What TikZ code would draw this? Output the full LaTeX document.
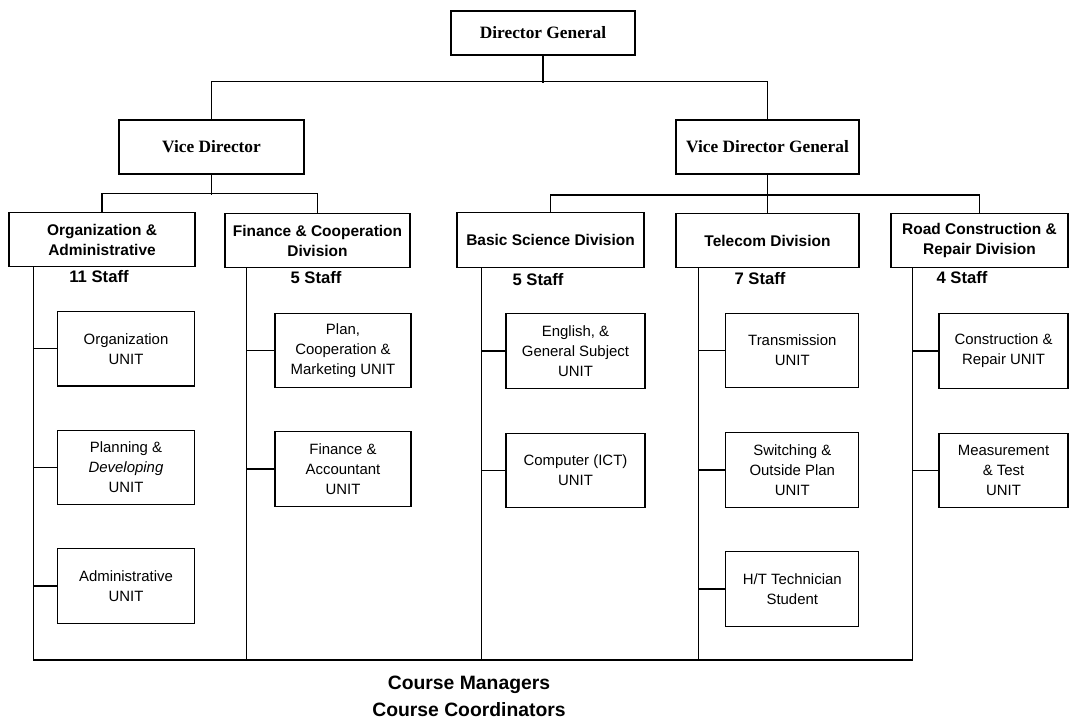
\documentclass[tikz,border=0pt]{standalone}
\usepackage{fontspec}
\setmainfont{Liberation Serif}
\setsansfont{Liberation Sans}
\begin{document}
\begin{tikzpicture}[x=.75pt, y=-.75pt, line width=.9pt,
  head/.style={draw, inner sep=0pt, minimum height=40.5pt, font=\bfseries\fontsize{13}{15}\selectfont},
  div/.style={draw, inner sep=0pt, minimum height=41pt, align=center, font=\sffamily\bfseries\fontsize{11.6}{15}\selectfont},
  unit/.style={draw, inner sep=0pt, minimum height=56pt, align=center, font=\sffamily\fontsize{11.2}{15}\selectfont},
  staff/.style={font=\sffamily\bfseries\fontsize{12.5}{15}\selectfont},
  foot/.style={align=center, font=\sffamily\bfseries\fontsize{14.5}{20}\selectfont}]
\useasboundingbox (0,0) rectangle (1070,723);
\node[head, minimum width=138pt, minimum height=33pt] (dg) at (543,33) {Director General};
\node[head, minimum width=138.75pt] (vd) at (211.5,147) {Vice Director};
\node[head, minimum width=137.25pt] (vdg) at (767.5,147) {Vice Director General};
\node[div, minimum width=139.5pt] (org) at (102,239.5) {Organization \&\\Administrative};
\node[div, minimum width=138.75pt] (fin) at (317.5,240.5) {Finance \& Cooperation\\Division};
\node[div, minimum width=140.25pt] (sci) at (550.5,240) {Basic Science Division};
\node[div, minimum width=137.25pt] (tel) at (767.5,240.5) {Telecom Division};
\node[div, minimum width=132.75pt] (road) at (979.5,240.5) {Road Construction \&\\Repair Division};
\node[staff] (orgs) at (99,277) {11 Staff};
\node[staff] (fins) at (316,278) {5 Staff};
\node[staff] (scis) at (538,280) {5 Staff};
\node[staff] (tels) at (760,279) {7 Staff};
\node[staff] (roads) at (962,278) {4 Staff};
\node[unit, minimum width=102.75pt] (orgu) at (126,348.7) {Organization\\UNIT};
\node[unit, minimum width=102.75pt] (plan) at (126,467.5) {Planning \&\\\textit{Developing}\\UNIT};
\node[unit, minimum width=102.75pt] (adm) at (126,586) {Administrative\\UNIT};
\node[unit, minimum width=102pt] (coop) at (343,350.5) {Plan,\\Cooperation \&\\Marketing UNIT};
\node[unit, minimum width=102pt] (acc) at (343,469) {Finance \&\\Accountant\\UNIT};
\node[unit, minimum width=104.25pt] (eng) at (575.5,351) {English, \&\\General Subject\\UNIT};
\node[unit, minimum width=104.25pt] (ict) at (575.5,470.5) {Computer (ICT)\\UNIT};
\node[unit, minimum width=99.75pt] (trans) at (792.3,350.5) {Transmission\\UNIT};
\node[unit, minimum width=99.75pt] (swt) at (792.3,470) {Switching \&\\Outside Plan\\UNIT};
\node[unit, minimum width=99.75pt] (ht) at (792.3,589) {H/T Technician\\Student};
\node[unit, minimum width=96.75pt] (cons) at (1003.5,351) {Construction \&\\Repair UNIT};
\node[unit, minimum width=96.75pt] (meas) at (1003.5,470.5) {Measurement\\\& Test\\UNIT};
\node[foot] (course) at (469,696.5) {Course Managers\\Course Coordinators};
\draw (dg.south) -- ++(0,27);
\draw (vd.north) -- ++(0,-38) -| (vdg.north);
\draw (vd.south) -- ++(0,20);
\draw (org.north) -- ++(0,-18) -| (fin.north);
\draw (vdg.south) -- ++(0,22);
\draw (sci.north) -- ++(0,-17) -| (road.north);
\draw (tel.north) -- ++(0,-17);
\foreach \d/\o in {org/25,fin/22,sci/25,tel/23,road/22}
  \path (\d.south west) ++(\o,0) coordinate (\d-b);
\coordinate (base) at (0,660);
\draw (org-b) |- (road-b |- base) -- (road-b);
\foreach \d in {fin,sci,tel}
  \draw (\d-b) -- (\d-b |- base);
\foreach \u/\d in {orgu/org,plan/org,adm/org,coop/fin,acc/fin,eng/sci,ict/sci,trans/tel,swt/tel,ht/tel,cons/road,meas/road}
  \draw (\u.west) -- (\u.west -| \d-b);
\end{tikzpicture}
\end{document}
